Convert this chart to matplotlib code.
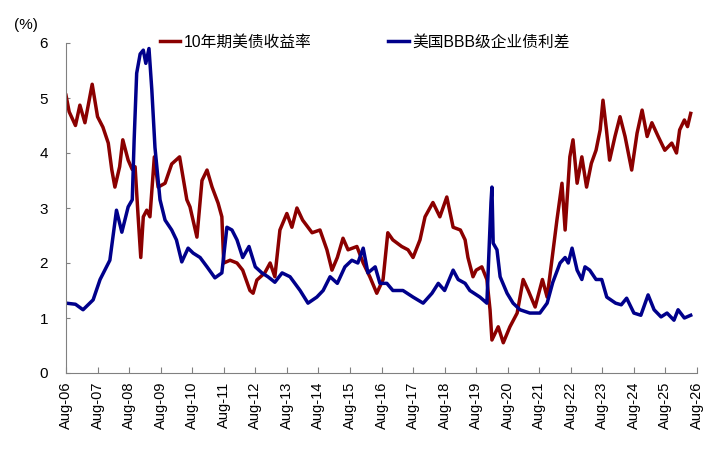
import matplotlib.pyplot as plt

plt.rcParams['font.family'] = ['Liberation Sans', 'Noto Sans CJK SC', 'DejaVu Sans']

# x values are years since Aug-06
yield_t = [0, 0.1, 0.3, 0.44, 0.6, 0.83, 1.0, 1.17, 1.34, 1.45,
           1.55, 1.7, 1.8, 1.97, 2.1, 2.19, 2.28, 2.37, 2.45, 2.56,
           2.66, 2.8, 2.92, 3.14, 3.35, 3.6, 3.83, 3.93, 4.15, 4.31,
           4.47, 4.63, 4.82, 4.94, 5.0, 5.2, 5.42, 5.6, 5.83, 5.93,
           6.05, 6.3, 6.47, 6.62, 6.78, 7.0,
           7.16, 7.32, 7.5, 7.8, 8.05, 8.27, 8.43, 8.6, 8.78, 8.94,
           9.22, 9.42, 9.63, 9.85, 10.05, 10.2, 10.36, 10.64, 10.84, 11.0,
           11.22, 11.38, 11.63, 11.85, 12.07, 12.27, 12.5, 12.65, 12.74, 12.9,
           13.0, 13.18, 13.34, 13.44, 13.5, 13.7, 13.86, 14.07, 14.3, 14.49,
           14.65, 14.87, 15.1, 15.25, 15.4, 15.56, 15.72, 15.82, 15.97, 16.07,
           16.2, 16.35, 16.5, 16.65, 16.8, 16.93, 17.02, 17.13, 17.23, 17.4,
           17.56, 17.72, 17.93, 18.1, 18.26, 18.42, 18.57, 18.77, 18.98, 19.2,
           19.35, 19.45, 19.6, 19.7, 19.8]
yield_10y = [5.05, 4.75, 4.5, 4.87, 4.55, 5.25, 4.66, 4.47, 4.18, 3.7,
             3.38, 3.75, 4.24, 3.87, 3.7, 3.75, 2.9, 2.1, 2.84, 2.96,
             2.84, 3.93, 3.38, 3.45, 3.8, 3.93, 3.15, 3.02, 2.47, 3.5,
             3.69, 3.38, 3.09, 2.84, 2.0, 2.05, 2.0, 1.87, 1.5, 1.45,
             1.69, 1.82, 2.0, 1.75, 2.6, 2.9,
             2.65, 3.0, 2.78, 2.55, 2.6, 2.24, 1.87, 2.1, 2.45, 2.24,
             2.3, 2.0, 1.75, 1.45, 1.7, 2.55, 2.42, 2.3, 2.24, 2.1,
             2.42, 2.84, 3.1, 2.84, 3.2, 2.65, 2.6, 2.42, 2.1, 1.75,
             1.87, 1.93, 1.7, 1.15, 0.6, 0.84, 0.55, 0.84, 1.09, 1.7,
             1.5, 1.2, 1.7, 1.38, 2.05, 2.78, 3.45, 2.6, 3.93, 4.24,
             3.45, 3.93, 3.38, 3.81, 4.05, 4.42, 4.96, 4.42, 3.87, 4.3,
             4.66, 4.3, 3.69, 4.36, 4.78, 4.3, 4.55, 4.3, 4.05, 4.18,
             4.0, 4.42, 4.6, 4.48, 4.72]

spread_t = [0, 0.3, 0.54, 0.86, 1.08, 1.39, 1.6, 1.77, 1.97, 2.1,
            2.16, 2.24, 2.35, 2.45, 2.53, 2.63, 2.72, 2.82, 2.98, 3.14,
            3.35, 3.5, 3.67, 3.87, 4.03, 4.25, 4.47, 4.72, 4.94, 5.1,
            5.26, 5.42, 5.6, 5.8, 6.0, 6.21, 6.4, 6.62, 6.85, 7.1,
            7.42, 7.67, 7.95,
            8.15, 8.37, 8.6, 8.84, 9.06, 9.25, 9.42, 9.57, 9.8, 9.95,
            10.17, 10.36, 10.68, 11.0, 11.32, 11.6, 11.8, 12.0, 12.27, 12.43,
            12.65, 12.8, 13.12, 13.34, 13.47, 13.5, 13.54, 13.66, 13.76, 13.98,
            14.17, 14.39, 14.7, 15.02, 15.25, 15.43, 15.66, 15.82, 15.92, 16.04,
            16.2, 16.35, 16.45, 16.6, 16.8, 16.98, 17.14, 17.42, 17.6, 17.77,
            18.0, 18.22, 18.45, 18.64, 18.86, 19.05, 19.27, 19.4, 19.6, 19.8]
bbb_spread = [1.27, 1.25, 1.15, 1.33, 1.7, 2.05, 2.96, 2.56, 3.02, 3.15,
              4.24, 5.45, 5.8, 5.87, 5.63, 5.9, 5.15, 4.1, 3.15, 2.78,
              2.6, 2.42, 2.02, 2.27, 2.18, 2.1, 1.93, 1.73, 1.82, 2.65,
              2.6, 2.42, 2.1, 2.3, 1.93, 1.82, 1.75, 1.65, 1.82, 1.75,
              1.5, 1.27, 1.38,
              1.5, 1.75, 1.63, 1.93, 2.05, 2.0, 2.27, 1.82, 1.93, 1.63,
              1.63, 1.5, 1.5, 1.38, 1.27, 1.45, 1.63, 1.5, 1.87, 1.7,
              1.63, 1.5, 1.38, 1.27, 3.1, 3.38, 2.36, 2.24, 1.75, 1.45,
              1.27, 1.15, 1.09, 1.09, 1.27, 1.65, 2.0, 2.1, 2.0, 2.27,
              1.87, 1.7, 1.93, 1.87, 1.7, 1.7, 1.38, 1.27, 1.24, 1.36,
              1.09, 1.05, 1.42, 1.15, 1.02, 1.09, 0.96, 1.15, 1.0, 1.05]

tick_labels = ['Aug-%02d' % (y % 100) for y in range(2006, 2027)]

fig = plt.figure(figsize=(7.26, 4.53), dpi=100)
ax = fig.add_axes([66 / 726, 1 - 373 / 453, 631 / 726, 330 / 453])

ax.plot(yield_t, yield_10y, color='#8B0000', lw=2.5, label='10年期美债收益率')
ax.plot(spread_t, bbb_spread, color='#00008B', lw=2.5, label='美国BBB级企业债利差')

ax.set_xlim(0, 20)
ax.set_ylim(0, 6)
ax.set_xticks(range(21))
ax.set_xticklabels(tick_labels, rotation=90, fontsize=10.5)
ax.set_yticks(range(7))
ax.tick_params(axis='x', direction='in', length=4, color='#808080', pad=6)
ax.tick_params(axis='y', direction='in', length=3, color='#808080', pad=13, labelsize=11)

for side in ['top', 'right']:
    ax.spines[side].set_visible(False)
for side in ['left', 'bottom']:
    ax.spines[side].set_color('#808080')

fig.text(14 / 726, 1 - 25 / 453, '(%)', fontsize=11, va='center', ha='left')

fig.legend(loc='center left', bbox_to_anchor=(160 / 726, 1 - 42 / 453),
           ncol=2, frameon=False, fontsize=11.3, handlelength=1.3,
           handletextpad=0.2, columnspacing=4.9, borderpad=0, borderaxespad=0)

fig.savefig('out.png', dpi=100)
